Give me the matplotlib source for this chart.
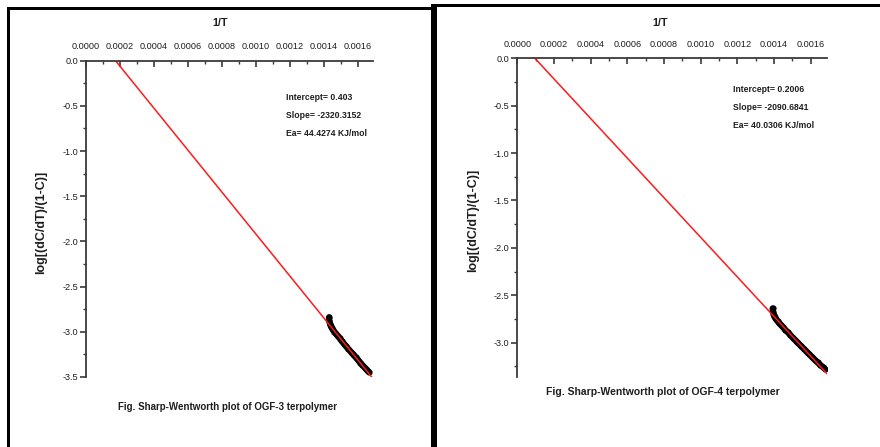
import numpy as np
import matplotlib
matplotlib.use("Agg")
import matplotlib.pyplot as plt
from matplotlib.patches import Rectangle
from matplotlib.ticker import MultipleLocator

W, H = 880, 447

# OGF-3 data (1/T, log[(dC/dT)/(1-C)])
ogf3_x = [0.001431, 0.001433, 0.001437, 0.001442, 0.001448, 0.001455, 0.001463, 0.001472,
          0.001482, 0.001493, 0.001505, 0.001518, 0.001531, 0.001545, 0.001559, 0.001573,
          0.001587, 0.001601, 0.001615, 0.001628, 0.001641, 0.001653, 0.001665]
ogf3_y = [-2.84, -2.88, -2.91, -2.94, -2.96, -2.98, -3.00, -3.02,
          -3.045, -3.07, -3.10, -3.13, -3.16, -3.19, -3.22, -3.25,
          -3.28, -3.31, -3.34, -3.37, -3.395, -3.42, -3.445]
ogf3_intercept = 0.403
ogf3_slope = -2320.3152
ogf3_text = ["Intercept= 0.403", "Slope= -2320.3152", "Ea= 44.4274 KJ/mol"]

# OGF-4 data
ogf4_x = [0.001392, 0.001394, 0.001398, 0.001404, 0.001411, 0.001419, 0.001428, 0.001438,
          0.001449, 0.001461, 0.001474, 0.001488, 0.001502, 0.001517, 0.001532, 0.001547,
          0.001562, 0.001577, 0.001592, 0.001607, 0.001622, 0.001637, 0.001651, 0.001664,
          0.001677]
ogf4_y = [-2.64, -2.68, -2.71, -2.735, -2.755, -2.775, -2.795, -2.815,
          -2.84, -2.865, -2.89, -2.92, -2.948, -2.978, -3.008, -3.037,
          -3.066, -3.095, -3.124, -3.153, -3.182, -3.21, -3.235, -3.255,
          -3.275]
ogf4_intercept = 0.2006
ogf4_slope = -2090.6841
ogf4_text = ["Intercept= 0.2006", "Slope= -2090.6841", "Ea= 40.0306 KJ/mol"]

xticks = [0.0000, 0.0002, 0.0004, 0.0006, 0.0008, 0.0010, 0.0012, 0.0014, 0.0016]

plt.rcParams['font.family'] = ["Liberation Sans", "DejaVu Sans"]

fig = plt.figure(figsize=(W / 100, H / 100), dpi=100)
fig.patch.set_facecolor("white")


def px_rect(x0, y0, x1, y1):
    fig.add_artist(Rectangle((x0 / W, 1 - y1 / H), (x1 - x0) / W, (y1 - y0) / H,
                             transform=fig.transFigure, color="black", lw=0))


def fig_text(x, y, s, **kw):
    fig.text(x / W, 1 - y / H, s, **kw)


# frame lines around the two pictures
px_rect(7, 7, 10, 447)
px_rect(7, 7, 434, 10)
px_rect(431, 4, 437, 447)
px_rect(434, 4, 880, 7)


def make_panel(box, xs, ys, icpt, slope, ylim, yticks, label_x, title_x):
    x0, y0, x1, y1 = box
    ax = fig.add_axes([x0 / W, 1 - y1 / H, (x1 - x0) / W, (y1 - y0) / H])
    ax.set_xlim(0, 0.00169)
    ax.set_ylim(*ylim)
    for s in ["right", "bottom"]:
        ax.spines[s].set_visible(False)
    for s in ["left", "top"]:
        ax.spines[s].set_color("#3a3a3a")
        ax.spines[s].set_linewidth(1.3)
    ax.xaxis.tick_top()
    ax.xaxis.set_label_position("top")
    ax.set_xticks(xticks)
    ax.set_xticklabels(["%.4f" % v for v in xticks])
    ax.xaxis.set_minor_locator(MultipleLocator(0.0001))
    ax.set_yticks(yticks)
    ax.set_yticklabels(["%.1f" % v for v in yticks])
    ax.yaxis.set_minor_locator(MultipleLocator(0.25))
    ax.tick_params(axis="x", which="major", direction="in", length=4, width=1.2,
                   color="#3a3a3a", labelsize=6.6, pad=7, labelcolor="#1e1e1e")
    ax.tick_params(axis="x", which="minor", direction="in", length=2.5, width=1.0, color="#3a3a3a")
    ax.tick_params(axis="y", which="major", direction="out", length=4, width=1.2,
                   color="#3a3a3a", labelsize=6.6, pad=1.5, labelcolor="#1e1e1e")
    ax.tick_params(axis="y", which="minor", direction="out", length=2.5, width=1.0, color="#3a3a3a")

    lx = np.linspace(0, 0.00169, 2)
    ax.plot(xs, ys, "-", color="black", lw=4.5, solid_capstyle="round")
    ax.plot(xs, ys, "o", color="black", ms=4.5, mew=0)
    ax.plot(lx, icpt + slope * lx, color="#ff1a1a", lw=1.1)

    ax.set_xlabel("1/T", fontsize=7.8, fontweight="bold", color="#1e1e1e")
    ax.xaxis.set_label_coords(title_x, 1 + ((y0 - 26) / (y1 - y0)))
    ax.set_ylabel("log[(dC/dT)/(1-C)]", fontsize=9, fontweight="bold", color="#1e1e1e")
    ax.yaxis.set_label_coords(label_x, 0.49)
    return ax


make_panel((86, 60.7, 373, 377), ogf3_x, ogf3_y, ogf3_intercept, ogf3_slope,
           (-3.5, 0), [0.0, -0.5, -1.0, -1.5, -2.0, -2.5, -3.0, -3.5], -0.136, 0.467)
make_panel((517.3, 58.3, 827.3, 376.7), ogf4_x, ogf4_y, ogf4_intercept, ogf4_slope,
           (-3.36, 0), [0.0, -0.5, -1.0, -1.5, -2.0, -2.5, -3.0], -0.124, 0.46)

for i, t in enumerate(ogf3_text):
    fig_text(286, 98 + 18 * i, t, fontsize=6.2, fontweight="bold",
             va="center", ha="left", color="#1e1e1e")
for i, t in enumerate(ogf4_text):
    fig_text(733, 90 + 18 * i, t, fontsize=6.2, fontweight="bold",
             va="center", ha="left", color="#1e1e1e")

fig_text(227, 407, "Fig. Sharp-Wentworth plot of OGF-3 terpolymer", fontsize=7.0,
         fontweight="bold", ha="center", va="center", color="#1e1e1e")
fig_text(663, 392, "Fig. Sharp-Wentworth plot of OGF-4 terpolymer", fontsize=7.5,
         fontweight="bold", ha="center", va="center", color="#1e1e1e")

fig.savefig("out.png", dpi=100, facecolor="white")
